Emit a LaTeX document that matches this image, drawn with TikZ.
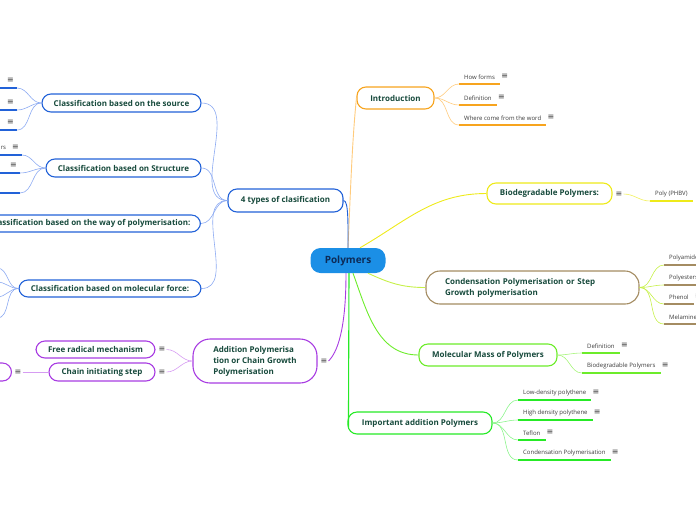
\documentclass[tikz,border=0pt]{standalone}
\usepackage{fontspec}
\setmainfont{Open Sans}
\newfontfamily\symfont{DejaVu Sans}
\usetikzlibrary{positioning}
\definecolor{ink}{HTML}{174A3C}
\definecolor{rootink}{HTML}{0D2B57}
\definecolor{rootblue}{HTML}{1B8FE6}
\definecolor{leafink}{HTML}{3A3A3A}
\definecolor{iconink}{HTML}{3A3A3A}
\definecolor{blue}{HTML}{2262D8}
\definecolor{bluelt}{HTML}{8CAAF2}
\definecolor{orange}{HTML}{F7A41E}
\definecolor{orangelt}{HTML}{FFCB7C}
\definecolor{yellow}{HTML}{EEEA1A}
\definecolor{yellowlt}{HTML}{F2F05A}
\definecolor{brown}{HTML}{A48C62}
\definecolor{lime}{HTML}{C6F048}
\definecolor{green}{HTML}{6CEC2A}
\definecolor{greenlt}{HTML}{A8F57C}
\definecolor{bright}{HTML}{26EA26}
\definecolor{brightlt}{HTML}{8CF48C}
\definecolor{purple}{HTML}{A83CE2}
\definecolor{purplelt}{HTML}{D69CF2}
\newcommand{\notes}{{\symfont\fontsize{8}{8}\selectfont ≡}}

\begin{document}
\begin{tikzpicture}[x=1pt,y=-1pt,
  topic/.style={draw=#1,line width=1.1pt,rounded corners=9pt,fill=white,text=ink,
    font=\fontsize{8}{11}\selectfont\bfseries,minimum height=18pt,inner xsep=10pt},
  link/.style={draw=#1,line width=0.6pt},
  mainlink/.style={draw=#1,line width=0.9pt},
  leaf/.style={text=leafink,font=\fontsize{6}{6}\selectfont,inner xsep=5pt,inner ysep=0pt,
    minimum height=14pt,anchor=south west},
  bar/.style={draw=#1,line width=1.5pt},
  icon/.style={text=iconink,inner sep=1pt}]
  \useasboundingbox (0,0) rectangle (696,520);
  \clip (0,0) rectangle (696,520);

  % root
  \node[fill=rootblue,rounded corners=10pt,minimum width=75pt,minimum height=25pt,text=rootink,
    font=\fontsize{10}{10}\selectfont\bfseries] (root) at (348,260.5) {Polymers};

  % introduction
  \node[topic=orange,minimum width=77pt,minimum height=22pt] (intro) at (395.5,98) {Introduction};
  \foreach \n/\y/\t in {i1/84/How forms,i2/105/Definition,i3/125/Where come from the word}{
    \node[leaf,label={[icon]right:\notes}] (\n) at (459,\y) {\t};
    \draw[bar=orange] (\n.south west) -- (\n.south east);
    \draw[link=orangelt] (intro.east) to[out=0,in=180] (\n.south west);
  }
  \draw[mainlink=orangelt] (root.north) .. controls +(3,-70) and +(-4,40) .. (intro.west);

  % biodegradable
  \node[topic=yellow,minimum width=125pt,minimum height=21pt] (bio) at (549.5,193.5) {Biodegradable Polymers:};
  \node[icon] (bioicon) at (619,194) {\notes};
  \node[leaf] (b1) at (650,201) {Poly (PHBV)};
  \draw[bar=yellow] (b1.south west) -- (b1.south east);
  \draw[link=yellowlt] (bioicon.east) to[out=0,in=180] (b1.south west);
  \draw[mainlink=yellow] ([xshift=12pt]root.north) to[out=30,in=180] (bio.west);

  % condensation
  \node[topic=brown,align=left,text width=175pt,inner xsep=19pt,minimum height=33pt,rounded corners=14pt]
    (cond) at (532.5,287.5) {Condensation Polymerisation or Step\\Growth polymerisation};
  \foreach \n/\y/\t in {c1/265/Polyamide,c2/285/Polyesters,c4/324/Melamine}{
    \node[leaf] (\n) at (664,\y) {\t};
    \draw[bar=brown] (\n.south west) -- (\n.south east);
    \draw[link=lime] (cond.east) to[out=0,in=180] (\n.south west);
  }
  \node[leaf,label={[icon]right:\notes}] (c3) at (664,304) {Phenol};
  \draw[bar=brown] (c3.south west) -- (c3.south east);
  \draw[link=lime] (cond.east) to[out=0,in=180] (c3.south west);
  \draw[mainlink=lime] ([xshift=20pt]root.south) to[out=-25,in=180] (cond.west);

  % molecular mass
  \node[topic=green,minimum width=138pt,minimum height=22pt] (mass) at (488,355) {Molecular Mass of Polymers};
  \foreach \n/\y/\t in {m1/353/Definition,m2/373/Biodegradable Polymers}{
    \node[leaf,label={[icon]right:\notes}] (\n) at (582,\y) {\t};
    \draw[bar=green] (\n.south west) -- (\n.south east);
    \draw[link=greenlt] (mass.east) to[out=0,in=180] (\n.south west);
  }
  \draw[mainlink=green] ([xshift=5pt]root.south) to[out=-70,in=180] (mass.west);

  % important addition polymers
  \node[topic=bright,minimum width=144pt,minimum height=22pt] (imp) at (420,423) {Important addition Polymers};
  \foreach \n/\y/\t in {p1/400/Low-density polythene,p2/420/High density polythene,p3/440/Teflon,p4/460/Condensation Polymerisation}{
    \node[leaf,label={[icon]right:\notes}] (\n) at (518,\y) {\t};
    \draw[bar=bright] (\n.south west) -- (\n.south east);
    \draw[link=brightlt] (imp.east) to[out=0,in=180] (\n.south west);
  }
  \draw[mainlink=bright,line width=1.1pt] ([xshift=1pt]root.south) -- ([xshift=1pt,yshift=-4pt]imp.west);

  % addition polymerisation
  \node[topic=purple,align=left,inner xsep=19pt,minimum width=124pt,minimum height=44pt,rounded corners=17pt]
    (add) at (255,361) {Addition Polymerisa\\tion or Chain Growth\\Polymerisation};
  \node[icon] (addicon) at (324,361) {\notes};
  \draw[mainlink=purple] ([xshift=-2pt]root.south) .. controls +(0,45) and +(12,-12) .. (addicon.east);
  \node[topic=purple,minimum width=119pt,minimum height=17pt] (free) at (95.5,349.5) {Free radical mechanism};
  \node[icon] (freeicon) at (162,349.5) {\notes};
  \node[topic=purple,minimum width=106pt,minimum height=18pt] (chain) at (102,372) {Chain initiating step};
  \node[icon] (chainicon) at (162,372) {\notes};
  \draw[link=purplelt] (add.west) to[out=180,in=0] (freeicon.east);
  \draw[link=purplelt] (add.west) to[out=180,in=0] (chainicon.east);
  \node[topic=purple,minimum width=60pt,minimum height=18pt,anchor=east] (prop) at (12,372) {};
  \node[icon] (propicon) at (18,372) {\notes};
  \draw[link=purplelt] (propicon.east) -- (chain.west);

  % four types
  \node[topic=blue,minimum width=115pt,minimum height=23pt] (types) at (285.5,200.5) {4 types of clasification};
  \draw[mainlink=blue] (types.east) .. controls +(5,0) and +(0,-25) .. (root.north);
  \node[topic=blue,minimum width=159pt] (src) at (121.5,103) {Classification based on the source};
  \node[topic=blue,minimum width=155pt] (struct) at (123.5,168) {Classification based on Structure};
  \node[topic=blue,minimum height=17pt,anchor=east] (way) at (201,223.5) {Classification based on the way of polymerisation:};
  \node[topic=blue,minimum width=182pt,minimum height=17pt] (force) at (110,288.5) {Classification based on molecular force:};
  \foreach \n in {src,struct,way,force}
    \draw[link=bluelt] (types.west) to[out=180,in=0] (\n.east);
  % leaves of the blue side
  \foreach \n/\y in {s1/88,s2/110,s3/130}{
    \node[leaf,anchor=south east,inner xsep=3pt] (\n) at (17,\y) {\notes};
    \draw[bar=blue] (\n.south east) -- ++(-40,0);
    \draw[link=bluelt] (src.west) to[out=180,in=0] (\n.south east);
  }
  \node[leaf,anchor=south east,inner xsep=3pt] (t1) at (22,155) {rs\hspace{6pt}\notes};
  \node[leaf,anchor=south east,inner xsep=3pt] (t2) at (20,173) {\notes};
  \node[leaf,anchor=south east,inner xsep=3pt] (t3) at (20,193) {};
  \foreach \n in {t1,t2,t3}{
    \draw[bar=blue] (\n.south east) -- ++(-40,0);
    \draw[link=bluelt] (struct.west) to[out=180,in=0] (\n.south east);
  }
  \foreach \n/\y in {f1/268,f2/282,f3/297,f4/318}{
    \coordinate (\n) at (-3,\y);
    \draw[link=bluelt] (force.west) to[out=180,in=0] (\n);
  }
\end{tikzpicture}
\end{document}
